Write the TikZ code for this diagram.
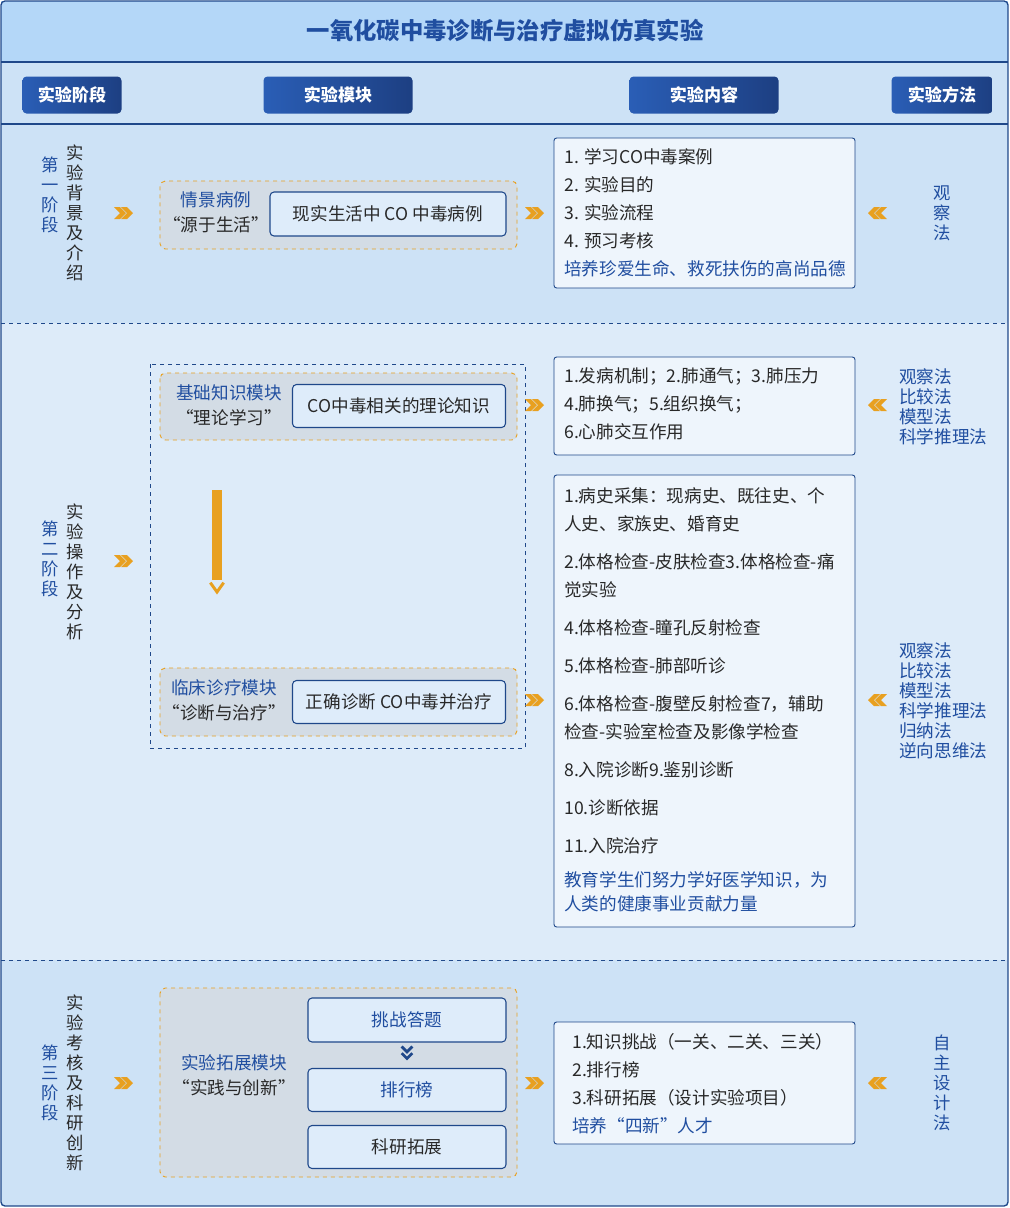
\documentclass[tikz,border=0pt]{standalone}
\usepackage{fontspec}
\setmainfont{Noto Sans CJK SC}
\usetikzlibrary{positioning,shadings}
\definecolor{frame}{RGB}{31,72,138}
\definecolor{titlebg}{RGB}{180,215,248}
\definecolor{bandA}{RGB}{205,226,246}
\definecolor{bandB}{RGB}{221,235,249}
\definecolor{txtblue}{RGB}{32,78,160}
\definecolor{btnL}{RGB}{42,94,182}
\definecolor{btnR}{RGB}{29,63,130}
\definecolor{chev}{RGB}{232,160,32}
\definecolor{modbg}{RGB}{211,220,229}
\definecolor{boxbg}{RGB}{222,236,250}
\definecolor{ink}{RGB}{40,40,40}
\tikzset{%
    btn/.style={%
        rounded corners=3pt, left color=btnL, right color=btnR, draw=none,
        text=white, font=\fontsize{12.8}{14}\selectfont\bfseries,
        minimum height=37*0.75pt, inner sep=0pt
    },
    modbox/.style={draw=chev, dashed, rounded corners=4pt, fill=modbg, line width=0.7pt},
    inbox/.style={draw=frame, rounded corners=3pt, fill=boxbg, line width=0.8pt,
        font=\fontsize{13.2}{14}\selectfont, text=ink, inner sep=0pt},
    cbox/.style={draw=frame, rounded corners=2pt, fill=white!50!boxbg, line width=0.7pt},
    ln/.style={anchor=west, inner sep=0pt, font=\fontsize{13.2}{14}\selectfont, text=ink},
    bl/.style={text=txtblue},
    mt/.style={font=\fontsize{13.2}{14}\selectfont},
    vtxt/.style={align=center, inner sep=0pt, font=\fontsize{13}{15}\selectfont},
    mtxt/.style={align=left, anchor=north west, inner sep=0pt, font=\fontsize{13.2}{15}\selectfont, text=txtblue},
    chevr/.pic={\foreach \d in {0,7}{\fill[chev] (\d-10,-6)--(\d-4,-6)--(\d+2,0)--(\d-4,6)--(\d-10,6)--(\d-4,0)--cycle;}},
    chevl/.pic={\foreach \d in {0,7}{\fill[chev] (-\d+10,-6)--(-\d+4,-6)--(-\d-2,0)--(-\d+4,6)--(-\d+10,6)--(-\d+4,0)--cycle;}}
}
\begin{document}
\begin{tikzpicture}[x=0.75pt,y=-0.75pt]
  \useasboundingbox (0,0) rectangle (1010,1208);
  % bands
  \fill[titlebg] (1,1) rectangle (1008,62);
  \fill[bandA] (1,62) rectangle (1008,323);
  \fill[bandB] (1,323) rectangle (1008,960);
  \fill[bandA] (1,960) rectangle (1008,1206);
  \draw[frame, line width=0.8pt] (1,62)--(1008,62);
  \draw[frame, line width=0.8pt] (1,124)--(1008,124);
  \draw[frame, dashed, line width=0.6pt] (1,323)--(1008,323);
  \draw[frame, dashed, line width=0.6pt] (1,960)--(1008,960);
  \draw[frame, line width=1pt, rounded corners=3pt] (1,1) rectangle (1008,1206);

  \node[font=\fontsize{17.5}{18}\selectfont\bfseries, text=txtblue] (title) at (505,31) {一氧化碳中毒诊断与治疗虚拟仿真实验};

  % header
  \node[btn, minimum width=99*0.75pt] (hStage) at (72,95) {实验阶段};
  \node[btn, minimum width=149*0.75pt] (hModule) at (338,95) {实验模块};
  \node[btn, minimum width=149*0.75pt] (hContent) at (704,95) {实验内容};
  \node[btn, minimum width=101*0.75pt] (hMethod) at (942,95) {实验方法};

  %% stage 1
  \node[vtxt, text=txtblue] (s1a) at (50,195) {第\\一\\阶\\段};
  \node[vtxt, text=ink] (s1b) at (75,213) {实\\验\\背\\景\\及\\介\\绍};
  \pic at (124,213) {chevr};
  \draw[modbox] (160,181) rectangle (517,249);
  \node[mt, text=txtblue] (m1t) at (216,200) {情景病例};
  \node[mt, text=ink] (m1q) at (216,225) {“源于生活”};
  \node[inbox, minimum width=236*0.75pt, minimum height=44*0.75pt] (m1) at (388,214) {现实生活中 CO 中毒病例};
  \pic at (535,213) {chevr};
  \draw[cbox] (554,138) rectangle (855,288);
  \node[ln] (c11) at (564,157) {1. 学习CO中毒案例};
  \node[ln] (c12) at (564,185) {2. 实验目的};
  \node[ln] (c13) at (564,213) {3. 实验流程};
  \node[ln] (c14) at (564,241) {4. 预习考核};
  \node[ln, bl] (c15) at (564,269) {培养珍爱生命、救死扶伤的高尚品德};
  \pic at (877,213) {chevl};
  \node[vtxt, text=txtblue] (me1) at (942,213) {观\\察\\法};

  %% stage 2
  \node[vtxt, text=txtblue] (s2a) at (50,559) {第\\二\\阶\\段};
  \node[vtxt, text=ink] (s2b) at (75,572) {实\\验\\操\\作\\及\\分\\析};
  \pic at (124,561) {chevr};
  \draw[frame, dashed, line width=0.6pt] (150,364) rectangle (525,748);
  \draw[modbox] (160,373) rectangle (517,440);
  \node[mt, text=txtblue] (m2t) at (229,393) {基础知识模块};
  \node[mt, text=ink] (m2q) at (229,418) {“理论学习”};
  \node[inbox, minimum width=213*0.75pt, minimum height=43*0.75pt] (m2) at (399,406) {CO中毒相关的理论知识};
  \draw[modbox] (160,668) rectangle (517,736);
  \node[mt, text=txtblue] (m3t) at (224,688) {临床诊疗模块};
  \node[mt, text=ink] (m3q) at (224,713) {“诊断与治疗”};
  \node[inbox, minimum width=213*0.75pt, minimum height=43*0.75pt] (m3) at (399,702) {正确诊断 CO中毒并治疗};
  \coordinate (arrTop) at (217,490);
  \coordinate (arrBot) at (217,580);
  \fill[chev] ([xshift=-3.5]arrTop) rectangle ([xshift=3.5]arrBot);
  \draw[chev, line width=2.2pt] ([xshift=-5,yshift=-2]arrBot)--([yshift=-9]arrBot)--([xshift=5,yshift=-2]arrBot);
  \pic at (535,405) {chevr};
  \pic at (535,700) {chevr};
  \draw[cbox] (554,357) rectangle (855,455);
  \node[ln] (c21) at (564,376) {1.发病机制；2.肺通气；3.肺压力};
  \node[ln] (c22) at (564,404) {4.肺换气；5.组织换气；};
  \node[ln] (c23) at (564,432) {6.心肺交互作用};
  \draw[cbox] (554,475) rectangle (855,927);
  \node[ln] (d01) at (564,496) {1.病史采集：现病史、既往史、个};
  \node[ln] (d02) at (564,524) {人史、家族史、婚育史};
  \node[ln] (d03) at (564,562) {2.体格检查-皮肤检查3.体格检查-痛};
  \node[ln] (d04) at (564,590) {觉实验};
  \node[ln] (d05) at (564,628) {4.体格检查-瞳孔反射检查};
  \node[ln] (d06) at (564,666) {5.体格检查-肺部听诊};
  \node[ln] (d07) at (564,704) {6.体格检查-腹壁反射检查7，辅助};
  \node[ln] (d08) at (564,732) {检查-实验室检查及影像学检查};
  \node[ln] (d09) at (564,770) {8.入院诊断9.鉴别诊断};
  \node[ln] (d10) at (564,808) {10.诊断依据};
  \node[ln] (d11) at (564,846) {11.入院治疗};
  \node[ln, bl] (d12) at (564,880) {教育学生们努力学好医学知识，为};
  \node[ln, bl] (d13) at (564,904) {人类的健康事业贡献力量};
  \pic at (877,405) {chevl};
  \node[mtxt] (me2) at (899,368) {观察法\\比较法\\模型法\\科学推理法};
  \pic at (877,700) {chevl};
  \node[mtxt] (me3) at (899,642) {观察法\\比较法\\模型法\\科学推理法\\归纳法\\逆向思维法};

  %% stage 3
  \node[vtxt, text=txtblue] (s3a) at (50,1083) {第\\三\\阶\\段};
  \node[vtxt, text=ink] (s3b) at (75,1083) {实\\验\\考\\核\\及\\科\\研\\创\\新};
  \pic at (124,1083) {chevr};
  \draw[modbox] (160,988) rectangle (517,1177);
  \node[mt, text=txtblue] (m4t) at (234,1063) {实验拓展模块};
  \node[mt, text=ink] (m4q) at (234,1088) {“实践与创新”};
  \node[inbox, text=txtblue, minimum width=198*0.75pt, minimum height=44*0.75pt] (q1) at (407,1020) {挑战答题};
  \node[inbox, text=txtblue, minimum width=198*0.75pt, minimum height=43*0.75pt] (q2) at (407,1090) {排行榜};
  \node[inbox, minimum width=198*0.75pt, minimum height=43*0.75pt] (q3) at (407,1147) {科研拓展};
  \draw[frame, line width=2pt] ([xshift=-4,yshift=-3]q1.south)--([yshift=-7]q1.south)--([xshift=4,yshift=-3]q1.south);
  \draw[frame, line width=2pt] ([xshift=-4,yshift=-8]q1.south)--([yshift=-12]q1.south)--([xshift=4,yshift=-8]q1.south);
  \pic at (535,1083) {chevr};
  \draw[cbox] (554,1022) rectangle (855,1144);
  \node[ln] (e1) at (572,1042) {1.知识挑战（一关、二关、三关）};
  \node[ln] (e2) at (572,1070) {2.排行榜};
  \node[ln] (e3) at (572,1098) {3.科研拓展（设计实验项目）};
  \node[ln, bl] (e4) at (572,1126) {培养“四新”人才};
  \pic at (877,1083) {chevl};
  \node[vtxt, text=txtblue] (me4) at (942,1083) {自\\主\\设\\计\\法};
\end{tikzpicture}
\end{document}
